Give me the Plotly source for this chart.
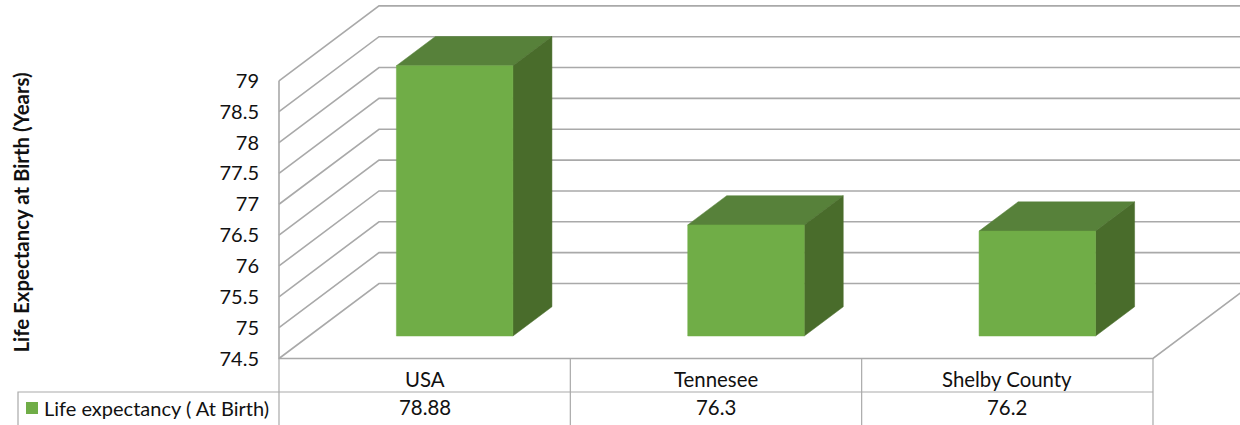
import plotly.graph_objects as go

categories = ["USA", "Tennesee", "Shelby County"]
life_expectancy = [78.88, 76.3, 76.2]
value_labels = ["78.88", "76.3", "76.2"]
tick_values = [74.5, 75, 75.5, 76, 76.5, 77, 77.5, 78, 78.5, 79]
tick_labels = ["74.5", "75", "75.5", "76", "76.5", "77", "77.5", "78", "78.5", "79"]
series_name = "Life expectancy ( At Birth)"
y_title = "Life Expectancy at Birth (Years)"

W, H = 1240, 425
AXIS_X, FLOOR_Y = 279.0, 358.5
CAT_W, UNIT_H = 291.33, 61.7
DEPTH_DX, DEPTH_DY = 100.0, 75.0
BASE = tick_values[0]
GRID = "#a9a9a9"
TEXT = "#111111"
FONT = "Lato, Carlito, Calibri, sans-serif"
FS = 20.4


def project(c, v, z=0.0):
    return c + z * DEPTH_DX / CAT_W, v + z * DEPTH_DY / UNIT_H


def row(offset_px):
    """Value-axis position of a table row, given px below the floor line."""
    return BASE - offset_px / UNIT_H


def col(px):
    return (px - AXIS_X) / CAT_W


def poly(points, **kw):
    xy = [project(*p) for p in points]
    return go.Scatter(x=[a for a, _ in xy], y=[b for _, b in xy],
                      hoverinfo="skip", showlegend=False, **kw)


def face(points, color):
    return poly(points + points[:1], mode="lines", fill="toself", fillcolor=color,
                line=dict(color=color, width=0.5))


def rule(points, width=1.6, color=GRID):
    return poly(points, mode="lines", line=dict(color=color, width=width))


fig = go.Figure()

# walls and floor
for v in tick_values:
    fig.add_trace(rule([(0, v, 0), (0, v, 1), (3, v, 1)]))
fig.add_trace(rule([(0, tick_values[-1], 0), (0, BASE, 0), (3, BASE, 0), (3, BASE, 1)]))

# bars
Z0, Z1 = 0.30, 0.69
for i, v in enumerate(life_expectancy):
    a, b = i + 0.30, i + 0.70
    fig.add_trace(face([(a, v, Z0), (b, v, Z0), (b, v, Z1), (a, v, Z1)], "#57813a"))
    fig.add_trace(face([(b, BASE, Z0), (b, v, Z0), (b, v, Z1), (b, BASE, Z1)], "#496c2b"))
    fig.add_trace(face([(a, BASE, Z0), (b, BASE, Z0), (b, v, Z0), (a, v, Z0)], "#70ad47"))

# data table
R1, R2 = row(33.5), row(H - FLOOR_Y + 5)
fig.add_trace(rule([(col(18), R2), (col(18), R1), (3, R1)], width=1.2))
for c in range(4):
    fig.add_trace(rule([(c, BASE), (c, R2)], width=1.2))

# series key in the table's first cell
fig.add_trace(go.Scatter(x=[col(32)], y=[row(49.5)], mode="markers", name=series_name,
                         marker=dict(symbol="square", size=12, color="#70ad47"),
                         hoverinfo="skip", showlegend=False))

annotations = [dict(x=col(42), y=row(49), text=series_name, showarrow=False, xanchor="left",
                    xref="x", yref="y", font=dict(family=FONT, size=20, color=TEXT))]
for i in range(3):
    annotations.append(dict(x=i + 0.5, y=row(20.5), text=categories[i], showarrow=False,
                            xref="x", yref="y", font=dict(family=FONT, size=FS, color=TEXT)))
    annotations.append(dict(x=i + 0.5, y=row(48.5), text=value_labels[i], showarrow=False,
                            xref="x", yref="y", font=dict(family=FONT, size=FS, color=TEXT)))

fig.update_layout(
    width=W, height=H, margin=dict(l=0, r=0, t=0, b=0, pad=0, autoexpand=False),
    paper_bgcolor="white", plot_bgcolor="white",
    font=dict(family=FONT, size=FS, color=TEXT),
    showlegend=False,
    annotations=annotations,
    xaxis=dict(range=[col(0), col(W)], domain=[0, 1], visible=False, fixedrange=True),
    yaxis=dict(
        range=[row(H - FLOOR_Y), BASE + FLOOR_Y / UNIT_H],
        anchor="free", position=AXIS_X / W, side="left",
        tickmode="array", tickvals=tick_values, ticktext=tick_labels,
        ticks="outside", ticklen=16, tickcolor="rgba(0,0,0,0)",
        tickfont=dict(family=FONT, size=20, color=TEXT),
        showgrid=False, zeroline=False, showline=False, fixedrange=True,
        title=dict(text="<b>" + y_title + "</b>", standoff=183,
                   font=dict(family=FONT, size=20.4, color=TEXT)),
    ),
)

fig.write_html("out.html", config=dict(displayModeBar=False),
               post_script="document.body.style.margin='0';document.body.style.overflow='hidden';")
